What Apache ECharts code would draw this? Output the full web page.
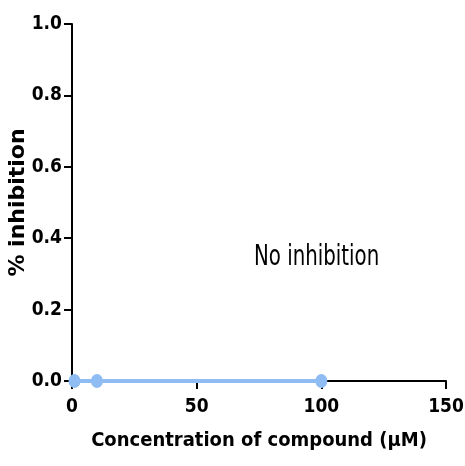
<!DOCTYPE html>
<html>
<head>
<meta charset="utf-8">
<script src="https://cdn.jsdelivr.net/npm/echarts@6/dist/echarts.min.js"></script>
<style>html,body{margin:0;padding:0;background:#fff}#chart{width:465px;height:466px}</style>
</head>
<body>
<div id="chart"></div>
<script>
var concentrations = [1, 10, 100];
var inhibition = [0, 0, 0];
var xTicks = [0, 50, 100, 150];
var yTicks = [0, 0.2, 0.4, 0.6, 0.8, 1.0];

var narrow = '"DejaVu Sans Condensed", "Liberation Sans", Arial, sans-serif';
var wide = '"DejaVu Sans", "Liberation Sans", Arial, sans-serif';

var chart = echarts.init(document.getElementById('chart'));
chart.setOption({
    animation: false,
    grid: { left: 72, right: 19, top: 24, bottom: 85, outerBoundsMode: 'none', containLabel: false },
    xAxis: {
        type: 'value', min: 0, max: 150, interval: 50,
        name: 'Concentration of compound (µM)',
        nameLocation: 'middle', nameGap: 50, nameMoveOverlap: false,
        nameTextStyle: { fontFamily: narrow, fontWeight: 'bold', fontSize: 20, color: '#000' },
        axisLine: { lineStyle: { color: '#000', width: 2 } },
        axisTick: { inside: false, length: 8, lineStyle: { color: '#000', width: 2 } },
        axisLabel: { fontFamily: narrow, fontWeight: 'bold', fontSize: 19, color: '#000', margin: 17,
            formatter: function (v) { return xTicks.indexOf(v) >= 0 ? String(v) : ''; } },
        splitLine: { show: false }
    },
    yAxis: {
        type: 'value', min: 0, max: 1, interval: 0.2,
        name: '% inhibition',
        nameLocation: 'middle', nameGap: 43, nameMoveOverlap: false,
        nameTextStyle: { fontFamily: wide, fontWeight: 'bold', fontSize: 22, color: '#000' },
        axisLine: { show: true, lineStyle: { color: '#000', width: 2 } },
        axisTick: { show: true, inside: false, length: 8, lineStyle: { color: '#000', width: 2 } },
        axisLabel: { fontFamily: narrow, fontWeight: 'bold', fontSize: 19, color: '#000', margin: 10,
            formatter: function (v) { return yTicks.indexOf(+v.toFixed(1)) >= 0 ? v.toFixed(1) : ''; } },
        splitLine: { show: false }
    },
    series: [{
        type: 'line',
        data: concentrations.map(function (c, i) { return [c, inhibition[i]]; }),
        symbol: 'circle', symbolSize: [12, 14],
        itemStyle: { color: '#8fbdf3' },
        lineStyle: { color: '#8fbdf3', width: 4 },
        z: 5
    }],
    graphic: [{
        type: 'text', x: 254, y: 243, scaleY: 1.3,
        style: { text: 'No inhibition', fontFamily: narrow, fontSize: 22, fill: '#000' }
    }]
});
</script>
</body>
</html>
